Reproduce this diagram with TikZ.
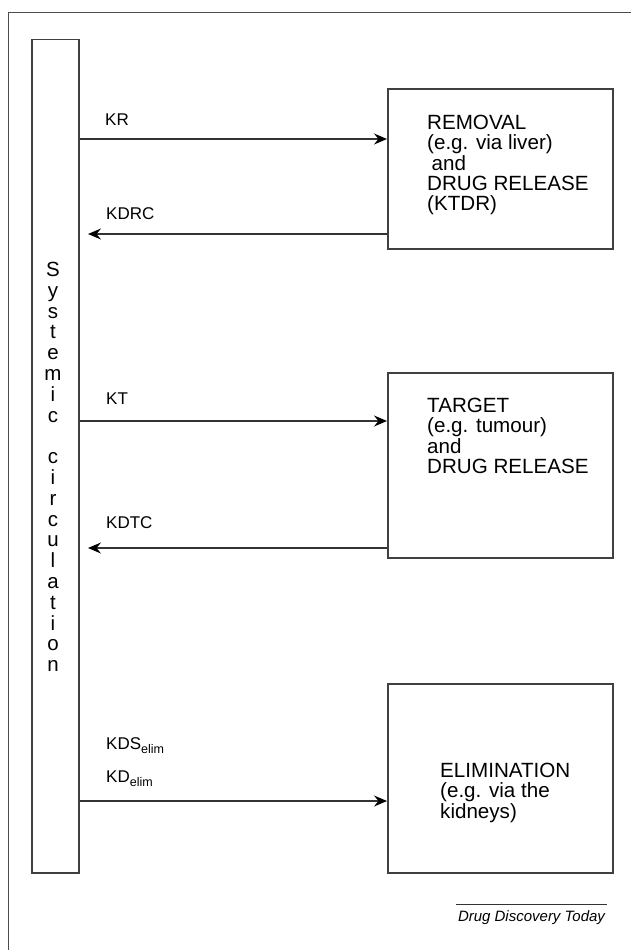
\documentclass[tikz,border=0pt]{standalone}
\usepackage{fontspec}
\setmainfont{Liberation Sans}
\usetikzlibrary{arrows.meta}
\begin{document}
\begin{tikzpicture}[x=1pt,y=-1pt,
  frameline/.style={draw=black!70, line width=1.4pt},
  boxnode/.style={draw=black!75, line width=1.5pt, anchor=north west, inner sep=0, minimum width=225pt},
  boxtext/.style={align=left, inner sep=0, anchor=north west, font=\fontsize{20.6}{20.3}\selectfont},
  lbl/.style={inner sep=0, anchor=base west, font=\fontsize{17}{17}\selectfont},
  arr/.style={draw=black!80, line width=1.2pt, -{Stealth[length=13pt,width=11pt,inset=4.5pt,color=black]}}
]
\useasboundingbox (0,0) rectangle (631,950);
\fill[white] (0,0) rectangle (631,950);
% outer frame
\draw[frameline] (8.5,950) -- (8.5,12.5) -- (631,12.5);

% systemic circulation box
\node[boxnode, minimum width=47pt, minimum height=833pt] (sys) at (31,39) {};
\node[align=center, inner sep=0, anchor=north, font=\fontsize{20.5}{20.8}\selectfont] (systxt) at (53,262)
  {S\\y\\s\\t\\e\\m\\i\\c\\[20.8pt]c\\i\\r\\c\\u\\l\\a\\t\\i\\o\\n};

% right boxes
\node[boxnode, minimum height=160pt] (rem) at (387,88) {};
\node[boxtext] (remtxt) at (427,115) {REMOVAL\\(e.g. via liver)\\\hspace*{4.5pt}and\\DRUG RELEASE\\(KTDR)};

\node[boxnode, minimum height=185pt] (tgt) at (387,372) {};
\node[boxtext] (tgttxt) at (427,398) {TARGET\\(e.g. tumour)\\and\\DRUG RELEASE};

\node[boxnode, minimum height=189pt] (elim) at (387,683) {};
\node[boxtext] (elimtxt) at (440,763) {ELIMINATION\\(e.g. via the\\kidneys)};

% arrow rows
\coordinate (ykr) at (0,139);
\coordinate (kdrcend) at (88,234);
\coordinate (ykt) at (0,421);
\coordinate (kdtcend) at (88,548);
\coordinate (yel) at (0,801);

\draw[arr] (sys.east |- ykr) -- (rem.west |- ykr);
\draw[arr] (rem.west |- kdrcend) -- (kdrcend);
\draw[arr] (sys.east |- ykt) -- (tgt.west |- ykt);
\draw[arr] (tgt.west |- kdtcend) -- (kdtcend);
\draw[arr] (sys.east |- yel) -- (elim.west |- yel);

% labels
\node[lbl] (lkr) at (105,125) {KR};
\node[lbl] (lkdrc) at (106,219) {KDRC};
\node[lbl] (lkt) at (106,404) {KT};
\node[lbl] (lkdtc) at (106,528) {KDTC};
\node[lbl] (lkds) at (106,749) {KDS\raisebox{-4.5pt}{\fontsize{12.5}{12.5}\selectfont elim}};
\node[lbl] (lkd) at (106,782) {KD\raisebox{-4.5pt}{\fontsize{12.5}{12.5}\selectfont elim}};

% credit
\node[inner sep=0, anchor=base, font=\fontsize{15}{15}\selectfont\itshape] (ddt) at (531.5,921) {Drug Discovery Today};
\draw[draw=black!80, line width=0.8pt] (456,904) -- (607,904);
\end{tikzpicture}
\end{document}
